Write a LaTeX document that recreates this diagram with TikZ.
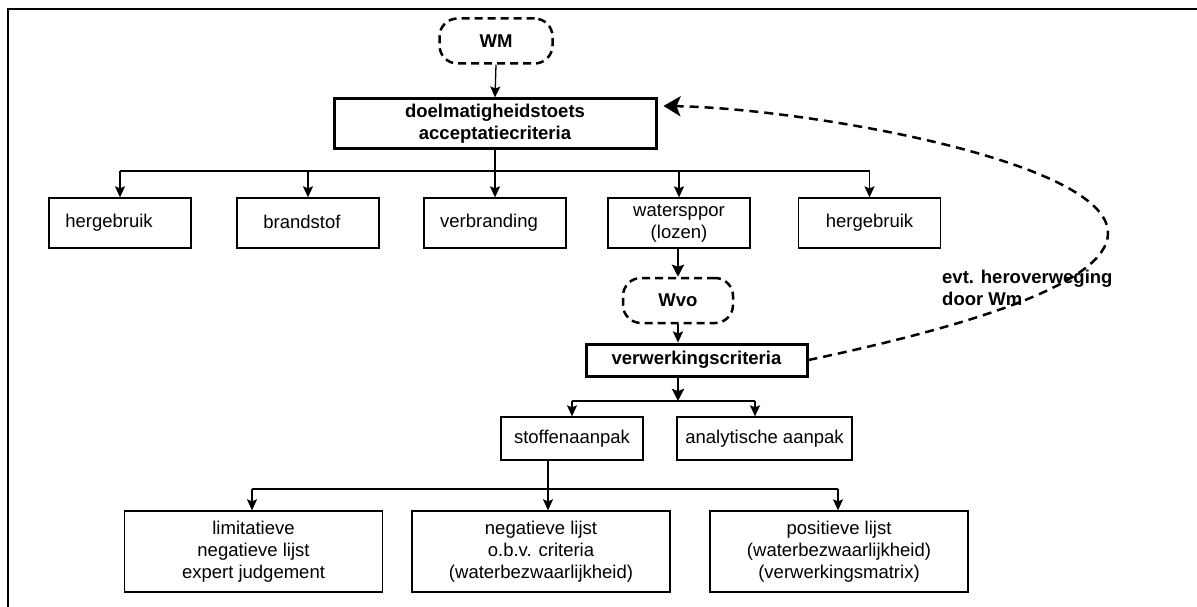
\documentclass[tikz,border=0pt]{standalone}
\usepackage{fontspec}
\setmainfont{Liberation Sans}
\usetikzlibrary{arrows.meta,calc}
\begin{document}
\begin{tikzpicture}[x=1pt,y=-1pt,
  every node/.style={font=\fontsize{18.5}{22}\selectfont, inner sep=0pt, align=center},
  plainbox/.style={draw, line width=1.3pt, minimum width=142pt, minimum height=50pt},
  lowbox/.style={draw, line width=1.3pt, minimum width=258pt, minimum height=81pt},
  midbox/.style={draw, line width=1.3pt, minimum height=43pt},
  thickbox/.style={draw, line width=3pt, font=\fontsize{18.5}{22}\selectfont\bfseries},
  dashbox/.style={draw, line width=2.5pt, dash pattern=on 8pt off 5pt, rounded corners=18pt, font=\fontsize{18.5}{22}\selectfont\bfseries},
  thinline/.style={line width=1.3pt},
  thickline/.style={line width=2.8pt},
  tipthin/.style={-{Stealth[length=11pt,width=10pt,inset=2pt]}},
  tipthick/.style={-{Stealth[length=12pt,width=12pt,inset=2pt]}},
  dashline/.style={line width=2.5pt, dash pattern=on 9pt off 6pt},
  lbl/.style={font=\fontsize{18.5}{22}\selectfont\bfseries, align=left, anchor=west}
]
\useasboundingbox (0,0) rectangle (1197,607);
% frame
\draw[line width=2pt] (7,9) -- (1197,9);
\draw[line width=2pt] (8,9) -- (8,607);

% top
\node[dashbox, minimum width=113pt, minimum height=45pt] (wm) at (496,41) {WM};
\node[thickbox, minimum width=322pt, minimum height=50pt] (doel) at (495,124) {doelmatigheidstoets\\acceptatiecriteria};

% row 1
\node[plainbox] (r1) at (120,223) {\kern-22pt\raisebox{2pt}{hergebruik}};
\node[plainbox] (r2) at (308,223) {\kern-12pt\raisebox{2pt}{brandstof}};
\node[plainbox] (r3) at (495,223) {\kern-12pt\raisebox{2pt}{verbranding}};
\node[plainbox] (r4) at (679,223) {watersppor\\(lozen)};
\node[plainbox] (r5) at (869.5,223) {\raisebox{2pt}{hergebruik}};

% middle
\node[dashbox, minimum width=110pt, minimum height=45pt] (wvo) at (678,300.5) {Wvo};
\node[thickbox, minimum width=221pt, minimum height=32pt] (verw) at (696.5,360) {verwerkingscriteria};

\node[midbox, minimum width=142pt] (st) at (572,438.5) {stoffenaanpak};
\node[midbox, minimum width=175pt] (an) at (764.5,438.5) {analytische aanpak};

% bottom
\node[lowbox] (l1) at (253.5,551.5) {limitatieve\\negatieve lijst\\expert judgement};
\node[lowbox] (l2) at (541,551.5) {negatieve lijst\\o.b.v. criteria\\(waterbezwaarlijkheid)};
\node[lowbox] (l3) at (839,551.5) {positieve lijst\\(waterbezwaarlijkheid)\\(verwerkingsmatrix)};

% connectors top
\draw[thinline, tipthin] (wm.south) -- (doel.north);
\coordinate (b1) at (0,171);
\draw[thinline] (r1.north |- b1) -- (r5.north |- b1);
\draw[thinline, tipthin] (doel.south) -- (r3.north);
\foreach \n in {r1,r2,r4,r5}{
  \draw[thinline, tipthin] (\n.north |- b1) -- (\n.north);
}

% middle connectors
\draw[thickline, tipthick] (r4.south -| wvo.north) -- (wvo.north);
\draw[line width=2pt, tipthin] (wvo.south) -- (wvo.south |- verw.north);
\coordinate (b2) at (678,401);
\draw[thickline, tipthick] (b2 |- verw.south) -- (b2);
\coordinate (b2l) at (572,401);
\coordinate (b2r) at (755,401);
\draw[thinline] (b2l) -- (b2r);
\draw[thinline, tipthin] (b2l) -- (b2l |- st.north);
\draw[thinline, tipthin] (b2r) -- (b2r |- an.north);

% bottom connectors
\coordinate (b3) at (548,489);
\draw[thinline, tipthin] (b3 |- st.south) -- (b3 |- l2.north);
\coordinate (b3l) at (252,489);
\coordinate (b3r) at (838,489);
\draw[thinline] (b3l) -- (b3r);
\draw[thinline, tipthin] (b3l) -- (b3l |- l1.north);
\draw[thinline, tipthin] (b3r) -- (b3r |- l3.north);

% feedback dashed curve
\draw[dashline, -{Stealth[length=17pt,width=20pt,inset=4pt]}] (verw.east) .. controls (960,328) and (1108,285) .. (1108,233) .. controls (1108,160) and (800,108) .. ([shift={(6,-18)}]doel.east);
\node[lbl] (fb) at (942,288) {evt. heroverweging\\door Wm};
\end{tikzpicture}
\end{document}
